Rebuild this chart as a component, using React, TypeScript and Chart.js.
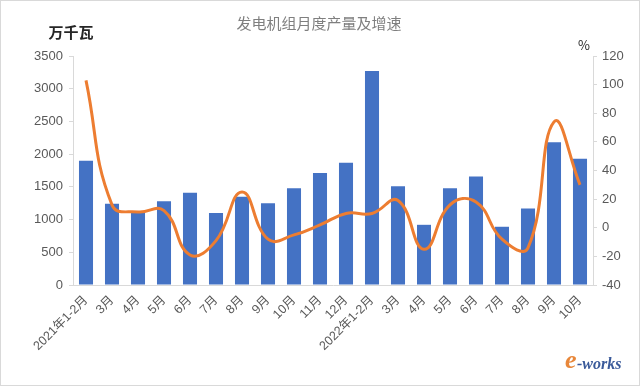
import React, { useEffect, useRef } from "react";
import { Chart, registerables } from "chart.js";

Chart.register(...registerables);

const categories = [
  "2021年1-2月", "3月", "4月", "5月", "6月", "7月", "8月", "9月", "10月", "11月", "12月",
  "2022年1-2月", "3月", "4月", "5月", "6月", "7月", "8月", "9月", "10月",
];
const outputValues = [
  1900, 1240, 1100, 1280, 1410, 1100, 1350, 1250, 1480, 1710, 1870,
  3270, 1510, 920, 1480, 1660, 890, 1170, 2180, 1930,
];
const growthValues = [
  103, 16, 11, 12, -19, -9, 25, -8, -5, 2, 10,
  10, 19, -15, 16, 18, -8, -14, 74, 30,
];
const leftTicks = [0, 500, 1000, 1500, 2000, 2500, 3000, 3500];
const rightTicks = [-40, -20, 0, 20, 40, 60, 80, 100, 120];
const chartTitle = "发电机组月度产量及增速";
const leftUnit = "万千瓦";
const rightUnit = "%";

const FONT = "'Liberation Sans', 'Noto Sans CJK SC', sans-serif";

const decorPlugin = {
  id: "decor",
  afterDraw(chart: any) {
    const ctx = chart.ctx;
    ctx.save();
    ctx.fillStyle = "#7f7f7f";
    ctx.font = "15px 'Noto Sans CJK SC', sans-serif";
    ctx.textAlign = "center";
    ctx.textBaseline = "middle";
    ctx.fillText(chartTitle, 318, 22);
    ctx.fillStyle = "#262626";
    ctx.font = "bold 15px 'Noto Sans CJK SC', sans-serif";
    ctx.fillText(leftUnit, 70, 31);
    ctx.font = "13px 'Noto Sans CJK SC', sans-serif";
    ctx.fillText(rightUnit, 583, 44);
    // watermark
    ctx.font = "italic bold 26px 'Liberation Serif', serif";
    ctx.fillStyle = "#e8873a";
    ctx.textAlign = "left";
    ctx.fillText("e", 564, 360);
    ctx.font = "italic bold 16px 'Liberation Serif', serif";
    ctx.fillStyle = "#3a5a9a";
    ctx.fillText("-works", 576, 364);
    ctx.restore();
  },
};

export default function App() {
  const ref = useRef<HTMLCanvasElement | null>(null);
  useEffect(() => {
    document.body.style.margin = "0";
    const chart = new Chart(ref.current as HTMLCanvasElement, {
      type: "bar",
      data: {
        labels: categories,
        datasets: [
          {
            type: "line",
            label: "增速",
            data: growthValues,
            yAxisID: "y1",
            borderColor: "#ED7D31",
            backgroundColor: "#ED7D31",
            borderWidth: 3,
            pointRadius: 0,
            tension: 0.45,
            order: 0,
          },
          {
            type: "bar",
            label: "产量",
            data: outputValues,
            yAxisID: "y",
            backgroundColor: "#4472C4",
            categoryPercentage: 1,
            barPercentage: 0.54,
            order: 1,
          },
        ],
      },
      options: {
        animation: false,
        responsive: false,
        maintainAspectRatio: false,
        layout: { padding: { top: 55, left: 0, right: 0, bottom: 0 } },
        plugins: { legend: { display: false }, tooltip: { enabled: false } },
        scales: {
          x: {
            grid: { display: false, drawTicks: true },
            border: { color: "#d9d9d9" },
            ticks: {
              color: "#595959",
              font: { family: FONT, size: 12.5 },
              minRotation: 45,
              maxRotation: 45,
              autoSkip: false,
              padding: 0,
            },
            afterFit(s: any) { s.height = 100; },
          },
          y: {
            position: "left",
            min: 0,
            max: 3500,
            afterBuildTicks(s: any) { s.ticks = leftTicks.map((v) => ({ value: v })); },
            grid: { display: true, drawOnChartArea: false, tickLength: 4, color: "#d9d9d9" },
            border: { color: "#d9d9d9" },
            ticks: {
              color: "#595959",
              font: { family: FONT, size: 13 },
              padding: 6,
              callback: (v: any) => String(v),
            },
            afterFit(s: any) { s.width = 72; },
          },
          y1: {
            position: "right",
            min: -40,
            max: 120,
            afterBuildTicks(s: any) { s.ticks = rightTicks.map((v) => ({ value: v })); },
            grid: { display: true, drawOnChartArea: false, tickLength: 4, color: "#d9d9d9" },
            border: { color: "#d9d9d9" },
            ticks: {
              color: "#595959",
              font: { family: FONT, size: 13 },
              padding: 5,
              callback: (v: any) => String(v),
            },
            afterFit(s: any) { s.width = 46; },
          },
        },
      },
      plugins: [decorPlugin],
    });
    return () => chart.destroy();
  }, []);
  return (
    <div style={{ position: "fixed", left: 0, top: 0, width: 640, height: 386, background: "#fff", boxSizing: "border-box", border: "1px solid #d9d9d9" }}>
      <canvas ref={ref} width={638} height={384} style={{ display: "block" }} />
    </div>
  );
}
